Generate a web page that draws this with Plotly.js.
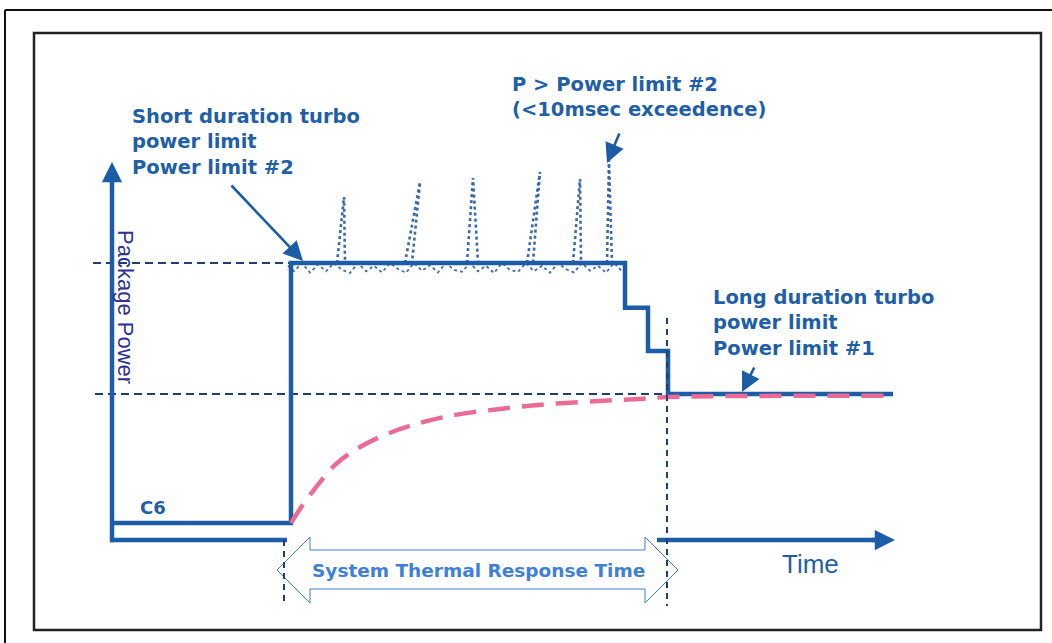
<!DOCTYPE html>
<html><head><meta charset="utf-8">
<script src="https://cdn.plot.ly/plotly-3.0.1.min.js"></script>
<style>html,body{margin:0;padding:0;background:#fff;overflow:hidden}#chart{width:1052px;height:643px}</style>
</head><body><div id="chart"></div>
<script>
// ---- data (time in arbitrary units, package power with PL2 = 100) ----
const powerTime  = [0, 17.9, 17.9, 51.3, 51.3, 53.6, 53.6, 55.6, 55.6, 78.1];
const powerValue = [6.1, 6.1, 100, 100, 83.8, 83.8, 68.2, 68.2, 52.7, 52.7];

const thermalTime  = [17.9, 18.8, 19.8, 20.8, 22.3, 24.3, 26.8, 29.8, 33.8, 38.8, 43.8, 48.8, 52.8, 55.6, 78.1];
const thermalValue = [6.1, 11.2, 16.2, 20.9, 27.1, 32.5, 37.2, 41.2, 44.8, 47.3, 49.1, 50.2, 50.9, 51.6, 52.1];

const spikeTime  = [22.5, 23.2, 23.3, null, 29.3, 30.8, 30.0, null, 35.5, 36.1, 36.6, null, 41.5, 42.8, 42.1, null, 46.1, 46.8, 46.9, null, 49.5, 49.7, 50.0];
const spikeValue = [100, 123.8, 100, null, 100, 129.2, 100, null, 100, 130.7, 100, null, 100, 132.9, 100, null, 100, 130.3, 100, null, 100, 137.2, 100];

const noiseTime  = [17.6, 18.2, 19.0, 19.8, 20.6, 21.4, 22.2, 23.0, 23.8, 24.6, 25.4, 26.2, 27.0, 27.8, 28.6, 29.4, 30.2, 31.0, 31.8, 32.6, 33.4, 34.2, 35.0, 35.8, 36.6, 37.4, 38.2, 39.0, 39.8, 40.6, 41.4, 42.2, 43.0, 43.8, 44.6, 45.4, 46.2, 47.0, 47.8, 48.6, 49.4, 50.2, 51.0];
const noiseValue = [99, 97, 100, 96.5, 99.5, 97, 100, 97.5, 96.4, 100, 97, 99, 96.6, 100, 97.8, 96.5, 100, 97.2, 99.2, 96.6, 100, 97.5, 96.8, 100, 97, 99, 96.4, 100, 97.5, 96.8, 100, 97, 99, 96.5, 100, 97.8, 96.6, 100, 97.2, 99, 96.5, 100, 97];

const limitNames  = ['Power limit #2', 'Power limit #1'];
const limitValues = [100, 52.7];
const limitStart  = [-1.9, -1.7];
const limitEnd    = [51.3, 55.6];

const guideTimes = [17.2, 55.5];
const guideTops  = [0, 80.1];
const guideBottom = -23.8;

const axisTimeEnd = 78.3;
const axisPowerEnd = 136.5;

// ---- colours ----
const BLUE = '#1d5ca6', NAVY = '#1c3f73', PINK = '#ec6a96', TXT = '#1f5fa8', LBL = '#2e3192', ARW = '#3f7fd6';

// helpers to place decorations (convert picture pixel positions to data units)
const X0 = 112, XS = 10, Y0 = 540, YS = 2.77;
const T = px => (px - X0) / XS;
const P = py => (Y0 - py) / YS;

const traces = [];
limitValues.forEach((v, i) => traces.push({
  x: [limitStart[i], limitEnd[i]], y: [v, v], mode: 'lines', name: limitNames[i],
  line: {color: NAVY, width: 2, dash: '8px,5px'}, hoverinfo: 'skip'
}));
traces.push({x: noiseTime, y: noiseValue, mode: 'lines', line: {color: '#3f6fae', width: 1.8, dash: 'dot'}, hoverinfo: 'skip'});
traces.push({x: spikeTime, y: spikeValue, mode: 'lines', connectgaps: false, line: {color: '#3a68a8', width: 2.6, dash: 'dot'}, hoverinfo: 'skip'});
traces.push({x: powerTime, y: powerValue, mode: 'lines', line: {color: BLUE, width: 4.5}, hoverinfo: 'skip'});
traces.push({x: thermalTime, y: thermalValue, mode: 'lines', line: {color: PINK, width: 4.5, dash: '22px,12px', shape: 'spline'}, hoverinfo: 'skip'});
// axes lines
traces.push({x: [0, 0], y: [-0.8, axisPowerEnd - 3], mode: 'lines', line: {color: BLUE, width: 4.5}, hoverinfo: 'skip'});
traces.push({x: [-0.2, axisTimeEnd - 1.5], y: [0, 0], mode: 'lines', line: {color: BLUE, width: 4.5}, hoverinfo: 'skip'});

const shapes = [];
// frames
const px2 = (x) => x / 1052, py2 = (y) => 1 - y / 643;
shapes.push({type: 'line', xref: 'paper', yref: 'paper', x0: px2(5), x1: px2(1052), y0: py2(10), y1: py2(10), line: {color: '#111', width: 2}});
shapes.push({type: 'line', xref: 'paper', yref: 'paper', x0: px2(5), x1: px2(5), y0: py2(10), y1: py2(643), line: {color: '#111', width: 2}});
shapes.push({type: 'rect', xref: 'paper', yref: 'paper', x0: px2(34), x1: px2(1041), y0: py2(33), y1: py2(630), line: {color: '#222', width: 2.5}});
// cover axis behind double arrow
shapes.push({type: 'rect', xref: 'x', yref: 'y', x0: T(287), x1: T(657), y0: P(545), y1: P(535), fillcolor: '#fff', line: {width: 0}, layer: 'above'});
// double arrow
const dx = [277, 310, 310, 645, 645, 678, 645, 645, 310, 310].map(T);
const dy = [570, 537, 550, 550, 537, 570, 603, 589, 589, 603].map(P);
let path = 'M' + dx.map((x, i) => x + ',' + dy[i]).join('L') + 'Z';
shapes.push({type: 'path', xref: 'x', yref: 'y', path: path, fillcolor: '#fff', line: {color: ARW, width: 1}, layer: 'above'});
// vertical guides
guideTimes.forEach((t, i) => shapes.push({type: 'line', xref: 'x', yref: 'y', x0: t, x1: t, y0: guideTops[i], y1: guideBottom, line: {color: NAVY, width: 2, dash: '6px,5px'}, layer: 'above'}));

const F = 'DejaVu Sans, Verdana, sans-serif';
const annotations = [
  // axis arrowheads
  {x: 0, y: axisPowerEnd, ax: 0, ay: axisPowerEnd - 8, xref: 'x', yref: 'y', axref: 'x', ayref: 'y', text: '', showarrow: true, arrowhead: 2, arrowsize: 0.9, arrowwidth: 4.5, arrowcolor: BLUE},
  {x: axisTimeEnd, y: 0, ax: axisTimeEnd - 2.5, ay: 0, xref: 'x', yref: 'y', axref: 'x', ayref: 'y', text: '', showarrow: true, arrowhead: 2, arrowsize: 0.9, arrowwidth: 4.5, arrowcolor: BLUE},
  // pointer arrows
  {x: T(303), y: P(261), ax: T(230), ay: P(184), xref: 'x', yref: 'y', axref: 'x', ayref: 'y', text: '', showarrow: true, arrowhead: 2, arrowsize: 1.5, arrowwidth: 2.6, arrowcolor: BLUE},
  {x: T(607), y: P(163), ax: T(620), ay: P(132), xref: 'x', yref: 'y', axref: 'x', ayref: 'y', text: '', showarrow: true, arrowhead: 2, arrowsize: 1.5, arrowwidth: 2.6, arrowcolor: BLUE},
  {x: T(742), y: P(392), ax: T(755), ay: P(366), xref: 'x', yref: 'y', axref: 'x', ayref: 'y', text: '', showarrow: true, arrowhead: 2, arrowsize: 1.5, arrowwidth: 2.6, arrowcolor: BLUE},
  // texts
  {x: T(130), y: P(142), xref: 'x', yref: 'y', xanchor: 'left', yanchor: 'middle', align: 'left', showarrow: false,
   text: '<b>Short duration turbo<br>power limit<br>Power limit #2</b>', font: {family: F, size: 19.5, color: TXT}},
  {x: T(510), y: P(97), xref: 'x', yref: 'y', xanchor: 'left', yanchor: 'middle', align: 'left', showarrow: false,
   text: '<b>P &gt; Power limit #2<br>(&lt;10msec exceedence)</b>', font: {family: F, size: 19.5, color: TXT}},
  {x: T(711), y: P(323), xref: 'x', yref: 'y', xanchor: 'left', yanchor: 'middle', align: 'left', showarrow: false,
   text: '<b>Long duration turbo<br>power limit<br>Power limit #1</b>', font: {family: F, size: 19.5, color: TXT}},
  {x: T(138), y: P(507), xref: 'x', yref: 'y', xanchor: 'left', yanchor: 'middle', showarrow: false,
   text: '<b>C6</b>', font: {family: F, size: 18, color: TXT}},
  {x: T(478), y: P(570), xref: 'x', yref: 'y', xanchor: 'center', yanchor: 'middle', showarrow: false,
   text: '<b>System Thermal Response Time</b>', font: {family: F, size: 18.5, color: ARW}},
  {x: T(810), y: P(564), xref: 'x', yref: 'y', xanchor: 'center', yanchor: 'middle', showarrow: false,
   text: 'Time', font: {family: 'Liberation Sans, Arial, sans-serif', size: 26, color: TXT}},
  {x: T(126), y: P(307), xref: 'x', yref: 'y', xanchor: 'center', yanchor: 'middle', showarrow: false, textangle: 90,
   text: 'Package Power', font: {family: 'Liberation Sans, Arial, sans-serif', size: 22, color: LBL}}
];

const layout = {
  width: 1052, height: 643, margin: {l: 0, r: 0, t: 0, b: 0, pad: 0},
  paper_bgcolor: '#fff', plot_bgcolor: '#fff', showlegend: false,
  xaxis: {range: [T(0), T(1052)], visible: false, fixedrange: true},
  yaxis: {range: [P(643), P(0)], visible: false, fixedrange: true},
  shapes: shapes, annotations: annotations
};
Plotly.newPlot('chart', traces, layout, {staticPlot: true, displayModeBar: false});
</script></body></html>
